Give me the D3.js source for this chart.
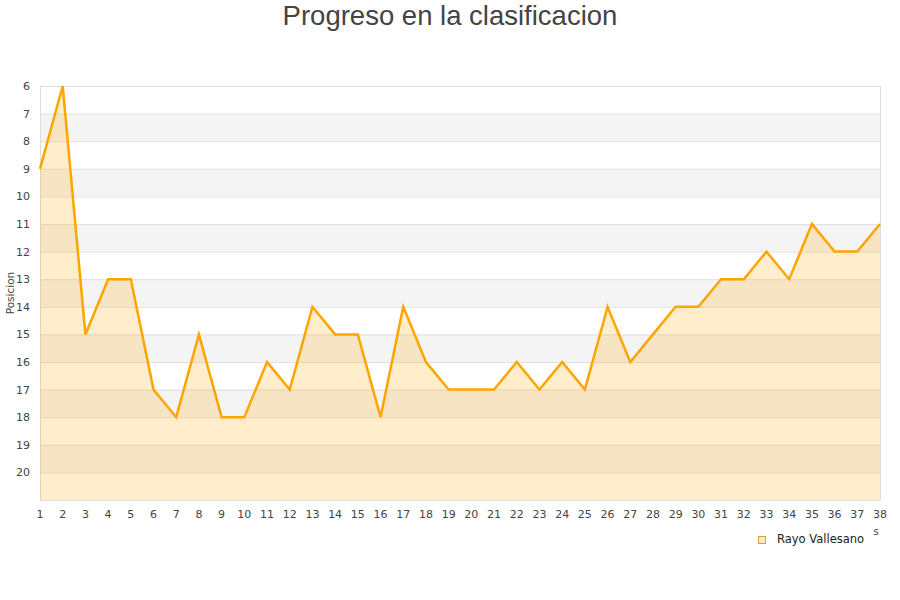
<!DOCTYPE html>
<html><head><meta charset="utf-8">
<script src="https://cdn.jsdelivr.net/npm/d3@7"></script>
<style>body{margin:0;background:#fff}svg{display:block}</style>
</head><body><div id="chart"></div>
<script>
const jornadas = d3.range(1, 39);
const posiciones = [9,6,15,13,13,17,18,15,18,18,16,17,14,15,15,18,14,16,17,17,17,16,17,16,17,14,16,15,14,14,13,13,12,13,11,12,12,11];
const yTicks = d3.range(6, 21);
const seriesName = "Rayo Vallesano";

const W = 900, H = 600;
const m = {l: 40, r: 20, t: 86, b: 100};
const svg = d3.select("#chart").append("svg").attr("width", W).attr("height", H);

const x = d3.scaleLinear().domain([1, 38]).range([m.l, W - m.r]);
const y = d3.scaleLinear().domain([6, 21]).range([m.t, H - m.b]);

// title
svg.append("text").attr("x", W/2).attr("y", 25).attr("text-anchor", "middle")
  .attr("font-family", "Liberation Sans, Arial, sans-serif").attr("font-size", 27.5)
  .attr("fill", "#444").text("Progreso en la clasificacion");

// bands
const g = svg.append("g");
d3.range(6, 21).forEach(v => {
  g.append("rect").attr("x", x(1)).attr("width", x(38) - x(1))
    .attr("y", y(v)).attr("height", y(v + 1) - y(v))
    .attr("fill", (v % 2 === 1) ? "#f4f4f4" : "#ffffff");
});
// grid lines
g.selectAll("line.grid").data(yTicks.concat([21])).enter().append("line")
  .attr("x1", x(1)).attr("x2", x(38)).attr("y1", d => y(d) + 0.5).attr("y2", d => y(d) + 0.5)
  .attr("stroke", "#e0e0e0").attr("stroke-width", 1);
// borders
[x(1), x(38)].forEach(px => {
  g.append("line").attr("x1", px + 0.5).attr("x2", px + 0.5).attr("y1", y(6)).attr("y2", y(21))
    .attr("stroke", "#dddddd");
});

const data = jornadas.map((j, i) => ({j, p: posiciones[i]}));
const area = d3.area().x(d => x(d.j)).y0(y(21)).y1(d => y(d.p));
const line = d3.line().x(d => x(d.j)).y(d => y(d.p));
svg.append("path").datum(data).attr("d", area).attr("fill", "#ffa500").attr("fill-opacity", 0.2);
svg.append("path").datum(data).attr("d", line).attr("fill", "none").attr("stroke", "#ffa500").attr("stroke-width", 2.5).attr("stroke-linejoin", "miter");

// y axis labels
svg.append("g").selectAll("text").data(yTicks).enter().append("text")
  .attr("x", 30).attr("y", d => y(d) + 4).attr("text-anchor", "end")
  .attr("font-family", "DejaVu Sans, sans-serif").attr("font-size", 11).attr("fill", "#444")
  .text(d => d);
// x axis labels
svg.append("g").selectAll("text").data(jornadas).enter().append("text")
  .attr("x", d => x(d)).attr("y", 518).attr("text-anchor", "middle")
  .attr("font-family", "DejaVu Sans, sans-serif").attr("font-size", 11).attr("fill", "#444")
  .text(d => d);

// y title
svg.append("text").attr("transform", `translate(14,${(y(6)+y(21))/2}) rotate(-90)`)
  .attr("text-anchor", "middle").attr("font-family", "DejaVu Sans, sans-serif")
  .attr("font-size", 10.5).attr("fill", "#444").text("Posicion");

// clipped x title fragment
svg.append("text").attr("x", 876).attr("y", 535).attr("text-anchor", "middle")
  .attr("font-family", "DejaVu Sans, sans-serif").attr("font-size", 10).attr("fill", "#444").text("s");

// legend
svg.append("rect").attr("x", 758.5).attr("y", 536.5).attr("width", 7).attr("height", 7)
  .attr("fill", "#ffe9c2").attr("stroke", "#d9a040").attr("stroke-width", 1);
svg.append("text").attr("x", 777).attr("y", 543).attr("font-family", "DejaVu Sans, sans-serif")
  .attr("font-size", 11.5).attr("fill", "#222").text(seriesName);
</script></body></html>
